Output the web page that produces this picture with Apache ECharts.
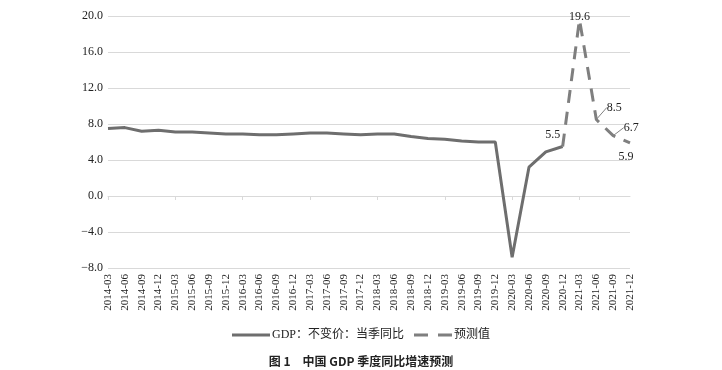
<!DOCTYPE html>
<html><head><meta charset="utf-8">
<script src="https://cdn.jsdelivr.net/npm/echarts@6/dist/echarts.min.js"></script>
<style>html,body{margin:0;padding:0;background:#fff}#c{width:722px;height:370px}</style>
</head><body><div id="c"></div>
<script>
const categories = ["2014-03","2014-06","2014-09","2014-12","2015-03","2015-06","2015-09","2015-12","2016-03","2016-06","2016-09","2016-12","2017-03","2017-06","2017-09","2017-12","2018-03","2018-06","2018-09","2018-12","2019-03","2019-06","2019-09","2019-12","2020-03","2020-06","2020-09","2020-12","2021-03","2021-06","2021-09","2021-12"];
const gdpActual = [7.5,7.6,7.2,7.3,7.1,7.1,7.0,6.9,6.9,6.8,6.8,6.9,7.0,7.0,6.9,6.8,6.9,6.9,6.6,6.4,6.3,6.1,6.0,6.0,-6.8,3.2,4.9,5.5,null,null,null,null];
const forecast = [null,null,null,null,null,null,null,null,null,null,null,null,null,null,null,null,null,null,null,null,null,null,null,null,null,null,null,5.5,19.6,8.5,6.7,5.9];
const yTicks = {min:-8, max:20, interval:4};
const seriesNames = ["GDP：不变价：当季同比","预测值"];
const titleText = "图 1　中国 GDP 季度同比增速预测";

const serif = "'Liberation Serif','Noto Sans CJK SC',serif";
const chart = echarts.init(document.getElementById('c'));
const labelPos = {27:'top',28:'top',29:'right',30:'right',31:'bottom'};
const moves = {27:{dx:-10,dy:0},28:{dx:0,dy:9},29:{dx:5,dy:-12},30:{dx:5,dy:-8},31:{dx:-4,dy:2}};
const withLine = {29:true,30:true};
const fcData = forecast.map((v,i)=> v===null ? null : {value:v,
  label:{show:true, position:labelPos[i]||'top'},
  labelLine:{show:!!withLine[i]}});
const solidColor = '#6e6e6e', dashColor = '#7f7f7f';
chart.setOption({
  animation:false,
  textStyle:{fontFamily:serif},
  grid:{left:108,right:92,top:16,bottom:102},
  title:{text:titleText,left:'center',top:350,textStyle:{fontSize:12,fontWeight:'bold',color:'#222',fontFamily:"'Noto Sans CJK SC','Liberation Serif',sans-serif"}},
  legend:{top:324,left:'center',itemWidth:38,itemHeight:3,itemGap:10,
    textStyle:{fontSize:12,color:'#222',fontFamily:serif,padding:[0,0,0,-3]},
    data:[
      {name:seriesNames[0],icon:'path://M0,0 L38,0 L38,3 L0,3 Z',itemStyle:{color:solidColor}},
      {name:seriesNames[1],icon:'path://M0,0 L14,0 L14,3 L0,3 Z M24,0 L38,0 L38,3 L24,3 Z',itemStyle:{color:dashColor}}
    ]},
  xAxis:[{type:'category',data:categories,boundaryGap:false,
      axisLine:{onZero:true,lineStyle:{color:'#d9d9d9'}},
      axisTick:{show:true,length:4,lineStyle:{color:'#d9d9d9'}},
      axisLabel:{show:false}},
    {type:'category',data:categories,boundaryGap:false,position:'bottom',
      axisLine:{show:false,onZero:false},axisTick:{show:false},
      axisLabel:{rotate:90,fontSize:11,color:'#222',fontFamily:serif,margin:6,interval:0}}],
  yAxis:{type:'value',min:yTicks.min,max:yTicks.max,interval:yTicks.interval,
    axisLine:{show:false},axisTick:{show:false},
    splitLine:{lineStyle:{color:'#d9d9d9',width:1}},
    axisLabel:{fontSize:12,color:'#222',fontFamily:serif,margin:5,
      formatter:v=> (v<0?'\u2212':'')+Math.abs(v).toFixed(1)}},
  series:[
    {name:seriesNames[0],type:'line',data:gdpActual,symbol:'none',
      lineStyle:{color:solidColor,width:3},itemStyle:{color:solidColor}},
    {name:seriesNames[1],type:'line',data:fcData,symbol:'circle',symbolSize:1,showSymbol:true,
      lineStyle:{color:dashColor,width:3,type:[13,9]},itemStyle:{color:'rgba(0,0,0,0)'},
      label:{show:true,fontSize:12,color:'#222',fontFamily:serif,distance:5},
      labelLine:{show:false,lineStyle:{color:'#808080',width:1}},
      labelLayout:p=>{const m=moves[p.dataIndex];return m?{dx:m.dx,dy:m.dy}:{};}}
  ]
});
</script></body></html>
